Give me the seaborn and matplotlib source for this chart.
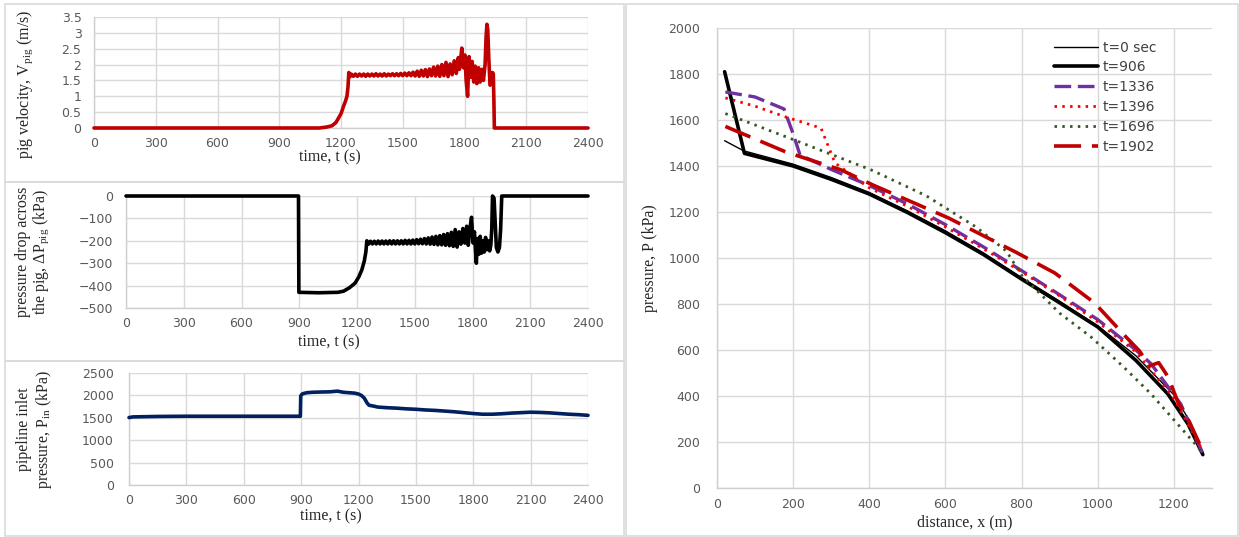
import matplotlib
matplotlib.use("Agg")
import matplotlib.pyplot as plt
from matplotlib.patches import Rectangle
import seaborn as sns

# ---------------- data ----------------
vel_t = [0, 1095, 1130, 1156, 1175, 1185, 1200, 1213, 1222, 1229, 1234, 1238, 1244,
         1250, 1260, 1270, 1280, 1290, 1300, 1310, 1320, 1330, 1340, 1350, 1360, 1370,
         1380, 1390, 1400, 1410, 1420, 1430, 1440, 1450, 1460, 1470, 1480, 1490, 1500,
         1510, 1520, 1530, 1540, 1550, 1560, 1570, 1580, 1590, 1600, 1610, 1620, 1630,
         1640, 1650, 1660, 1670, 1680, 1690, 1700, 1710, 1720, 1730, 1740, 1750, 1760,
         1770, 1775, 1780, 1787, 1795, 1802, 1808, 1815, 1822, 1830, 1837, 1845, 1852,
         1860, 1868, 1876, 1884, 1892, 1900, 1905, 1909, 1913, 1918, 1924, 1930, 1936,
         1940, 1943, 1945, 2400]
vel_v = [0, 0, 0.03, 0.07, 0.17, 0.28, 0.45, 0.70, 0.85, 1.0, 1.3, 1.75, 1.62,
         1.70, 1.63, 1.70, 1.63, 1.70, 1.64, 1.70, 1.63, 1.70, 1.64, 1.70, 1.64, 1.71,
         1.64, 1.70, 1.64, 1.71, 1.64, 1.70, 1.65, 1.71, 1.65, 1.71, 1.65, 1.72, 1.65,
         1.73, 1.65, 1.74, 1.65, 1.76, 1.64, 1.79, 1.63, 1.82, 1.64, 1.84, 1.62, 1.86,
         1.65, 1.92, 1.64, 1.95, 1.63, 2.00, 1.65, 2.07, 1.62, 2.02, 1.68, 2.12, 1.72,
         2.22, 1.85, 2.10, 2.52, 1.90, 2.30, 1.50, 1.00, 2.25, 1.60, 2.10, 1.45, 1.95,
         1.40, 1.90, 1.45, 1.85, 1.50, 2.00, 2.90, 3.27, 3.10, 2.20, 1.35, 1.40, 1.75,
         1.70, 0.80, 0, 0]

dp_t = [0, 896, 898, 1000, 1100, 1130, 1160, 1190, 1210, 1225, 1238, 1246, 1251,
        1260, 1270, 1280, 1290, 1300, 1310, 1320, 1330, 1340, 1350, 1360, 1370, 1380,
        1390, 1400, 1410, 1420, 1430, 1440, 1450, 1460, 1470, 1480, 1490, 1500, 1510,
        1520, 1530, 1540, 1550, 1560, 1570, 1580, 1590, 1600, 1610, 1620, 1630, 1640,
        1650, 1660, 1670, 1680, 1690, 1700, 1710, 1720, 1730, 1740, 1750, 1760, 1770,
        1778, 1786, 1795, 1803, 1810, 1816, 1820, 1826, 1833, 1840, 1847, 1854, 1861,
        1868, 1875, 1882, 1889, 1895, 1900, 1904, 1912, 1918, 1924, 1932, 1940, 1946,
        1952, 2400]
dp_v = [0, 0, -430, -432, -430, -425, -410, -389, -360, -330, -290, -250, -200,
        -215, -202, -214, -202, -214, -201, -214, -201, -214, -201, -214, -200, -214,
        -200, -214, -200, -214, -200, -214, -198, -214, -198, -214, -197, -214, -195,
        -213, -193, -213, -190, -214, -187, -215, -183, -216, -180, -218, -177, -218,
        -172, -220, -168, -222, -162, -225, -150, -228, -160, -215, -145, -210, -135,
        -220, -150, -95, -210, -160, -250, -300, -190, -260, -180, -255, -200, -250,
        -185, -240, -200, -245, -220, -150, 0, -10, -120, -230, -250, -230, -150,
        0, 0]

pin_t = [0, 20, 150, 300, 450, 600, 750, 896, 898, 905, 915, 930, 960, 1000, 1050,
         1090, 1120, 1150, 1180, 1200, 1215, 1230, 1245, 1255, 1280, 1300, 1350, 1400,
         1450, 1500, 1550, 1600, 1650, 1700, 1750, 1800, 1850, 1900, 1950, 2000, 2050,
         2100, 2150, 2200, 2250, 2300, 2350, 2400]
pin_v = [1505, 1520, 1530, 1535, 1535, 1535, 1535, 1535, 1990, 2030, 2045, 2060, 2070,
         2075, 2080, 2095, 2070, 2060, 2050, 2030, 2000, 1940, 1830, 1780, 1760, 1740,
         1725, 1715, 1700, 1690, 1675, 1665, 1650, 1635, 1615, 1595, 1580, 1580, 1590,
         1605, 1615, 1625, 1620, 1610, 1595, 1580, 1570, 1555]

x_t0 = [20, 70, 200, 300, 400, 500, 600, 700, 800, 900, 1000, 1100, 1200, 1240, 1276]
p_t0 = [1510, 1466, 1408, 1350, 1285, 1205, 1118, 1022, 915, 812, 705, 575, 405, 295, 152]
x_t906 = [20, 72, 200, 300, 400, 500, 600, 700, 800, 900, 1000, 1100, 1184, 1237, 1276]
p_t906 = [1810, 1455, 1400, 1342, 1278, 1198, 1110, 1015, 908, 805, 700, 555, 409, 278, 145]
x_t1336 = [22, 100, 176, 200, 218, 300, 400, 500, 600, 700, 800, 900, 1000, 1100, 1140, 1218, 1276]
p_t1336 = [1722, 1700, 1648, 1540, 1448, 1385, 1315, 1235, 1145, 1048, 945, 840, 732, 600, 540, 365, 150]
x_t1396 = [22, 100, 181, 273, 310, 400, 500, 600, 700, 800, 900, 1000, 1100, 1200, 1276]
p_t1396 = [1696, 1660, 1613, 1565, 1413, 1305, 1225, 1135, 1040, 940, 835, 722, 592, 390, 160]
x_t1696 = [22, 200, 405, 550, 680, 760, 800, 900, 982, 1068, 1140, 1200, 1263, 1276]
p_t1696 = [1628, 1515, 1383, 1270, 1135, 1030, 925, 760, 657, 526, 409, 296, 178, 148]
x_t1902 = [22, 181, 326, 410, 608, 784, 887, 992, 1074, 1110, 1135, 1160, 1180, 1195, 1210, 1240, 1272]
p_t1902 = [1572, 1461, 1383, 1317, 1174, 1026, 935, 804, 657, 595, 530, 545, 495, 440, 375, 290, 175]

profile_labels = ["t=0 sec", "t=906", "t=1336", "t=1396", "t=1696", "t=1902"]

time_ticks = [0, 300, 600, 900, 1200, 1500, 1800, 2100, 2400]

# ---------------- style ----------------
sns.set_style("white")
plt.rcParams["font.family"] = ["DejaVu Sans"]
plt.rcParams["mathtext.fontset"] = "custom"
plt.rcParams["mathtext.rm"] = "Liberation Serif"
plt.rcParams["mathtext.it"] = "Liberation Serif:italic"

W, H = 1239, 537
GRID = "#D9D9D9"
TICKC = "#595959"
SERIF = ["Liberation Serif", "DejaVu Serif"]

fig = plt.figure(figsize=(W / 100, H / 100), dpi=100)
fig.patch.set_facecolor("white")


def add_ax(x0, y0, x1, y1):
    return fig.add_axes([x0 / W, 1 - y1 / H, (x1 - x0) / W, (y1 - y0) / H])


def style_ax(ax, ypad, xpad=6.5):
    ax.grid(True, color=GRID, lw=1)
    ax.set_axisbelow(True)
    for s in ["top", "right"]:
        ax.spines[s].set_visible(False)
    for s in ["left", "bottom"]:
        ax.spines[s].set_color("#CFCFCF")
        ax.spines[s].set_linewidth(1)
    ax.tick_params(axis="both", length=0, labelsize=9, colors=TICKC)
    ax.tick_params(axis="y", pad=ypad)
    ax.tick_params(axis="x", pad=xpad)


# panel frames
for (x0, y0, x1, y1) in [(5, 4, 624, 182), (5, 182, 624, 361), (5, 361, 624, 536), (626, 4, 1238, 536)]:
    fig.add_artist(Rectangle((x0 / W, 1 - y1 / H), (x1 - x0) / W, (y1 - y0) / H,
                             transform=fig.transFigure, fill=False, ec="#DADADA", lw=1.2))

# ---- top: pig velocity ----
ax1 = add_ax(94, 17, 588, 128)
sns.lineplot(x=vel_t, y=vel_v, ax=ax1, color="#C00000", lw=2.6, estimator=None, sort=False,
             clip_on=False, zorder=4)
ax1.set_xlim(0, 2400)
ax1.set_ylim(0, 3.5)
ax1.set_xticks(time_ticks)
ax1.set_yticks([0, 0.5, 1, 1.5, 2, 2.5, 3, 3.5])
ax1.set_yticklabels(["0", "0.5", "1", "1.5", "2", "2.5", "3", "3.5"])
style_ax(ax1, ypad=9)
ax1.set_xlabel("time, t (s)", family=SERIF, fontsize=11.5)
ax1.xaxis.set_label_coords(0.478, -0.19)
ax1.set_ylabel("")
fig.text(25 / W, 1 - 84 / H, r"pig velocity, V$_{\mathrm{pig}}$ (m/s)", rotation=90,
         ha="center", va="center", family=SERIF, fontsize=11.5)

# ---- middle: pressure drop ----
ax2 = add_ax(126, 196, 588, 308)
sns.lineplot(x=dp_t, y=dp_v, ax=ax2, color="black", lw=2.6, estimator=None, sort=False,
             clip_on=False, zorder=4)
ax2.set_xlim(0, 2400)
ax2.set_ylim(-500, 0)
ax2.set_xticks(time_ticks)
ax2.set_yticks([-500, -400, -300, -200, -100, 0])
style_ax(ax2, ypad=9.5)
ax2.set_xlabel("time, t (s)", family=SERIF, fontsize=11.5)
ax2.xaxis.set_label_coords(0.44, -0.235)
ax2.set_ylabel("")
fig.text(33 / W, 1 - 252 / H, "pressure drop across\nthe pig, ΔP$_{\\mathrm{pig}}$ (kPa)", rotation=90,
         ha="center", va="center", family=SERIF, fontsize=11.5, multialignment="center",
         linespacing=1.1)

# ---- bottom: inlet pressure ----
ax3 = add_ax(129, 373, 588, 485)
sns.lineplot(x=pin_t, y=pin_v, ax=ax3, color="#002060", lw=2.6, estimator=None, sort=False,
             clip_on=False, zorder=4)
ax3.set_xlim(0, 2400)
ax3.set_ylim(0, 2500)
ax3.set_xticks(time_ticks)
ax3.set_yticks([0, 500, 1000, 1500, 2000, 2500])
style_ax(ax3, ypad=11)
ax3.set_xlabel("time, t (s)", family=SERIF, fontsize=11.5)
ax3.xaxis.set_label_coords(0.44, -0.205)
ax3.set_ylabel("")
fig.text(35 / W, 1 - 429 / H, "pipeline inlet\npressure, P$_{\\mathrm{in}}$ (kPa)", rotation=90,
         ha="center", va="center", family=SERIF, fontsize=11.5, multialignment="center",
         linespacing=1.1)

# ---- right: pressure profiles ----
ax4 = add_ax(717, 28, 1212, 488)
profiles = [
    (x_t0, p_t0, dict(color="black", lw=1.0, linestyle="-")),
    (x_t906, p_t906, dict(color="black", lw=2.6, linestyle="-")),
    (x_t1336, p_t1336, dict(color="#7030A0", lw=2.4, linestyle=(0, (5.0, 2.0)))),
    (x_t1396, p_t1396, dict(color="#FF0000", lw=2.0, linestyle=(0, (0.9, 1.9)))),
    (x_t1696, p_t1696, dict(color="#385723", lw=2.0, linestyle=(0, (0.9, 1.9)))),
    (x_t1902, p_t1902, dict(color="#C00000", lw=2.6, linestyle=(0, (7.5, 3.0)))),
]
for (xs, ps, kw), lab in zip(profiles, profile_labels):
    sns.lineplot(x=xs, y=ps, ax=ax4, label=lab, estimator=None, sort=False, **kw)
ax4.set_xlim(0, 1300)
ax4.set_ylim(0, 2000)
ax4.set_xticks([0, 200, 400, 600, 800, 1000, 1200])
ax4.set_yticks(list(range(0, 2001, 200)))
style_ax(ax4, ypad=12, xpad=7)
ax4.set_xlabel("distance, x (m)", family=SERIF, fontsize=11.5)
ax4.xaxis.set_label_coords(0.5, -0.058)
ax4.set_ylabel("")
fig.text(650 / W, 1 - 258 / H, "pressure, P (kPa)", rotation=90,
         ha="center", va="center", family=SERIF, fontsize=11.5)
leg = ax4.legend(loc="upper left", bbox_to_anchor=(0.655, 1.0), frameon=False,
                 handlelength=3.2, handletextpad=0.35, labelspacing=0.42,
                 prop={"family": "DejaVu Sans", "size": 10})
for t in leg.get_texts():
    t.set_color("#404040")

fig.savefig("out.png", dpi=100)
